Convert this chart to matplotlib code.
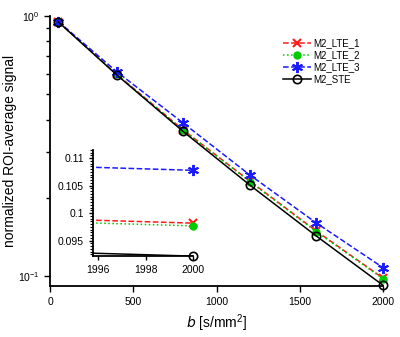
import matplotlib.pyplot as plt
from matplotlib.ticker import FixedLocator, MultipleLocator, FormatStrFormatter, NullFormatter

plt.rcParams['font.family'] = ['Liberation Sans', 'DejaVu Sans']
plt.rcParams['mathtext.default'] = 'regular'

# b-values and normalized signals
b_vals = [50, 400, 800, 1200, 1600, 2000]
lte_1 = [0.951, 0.598, 0.365, 0.232, 0.149, 0.0982]
lte_2 = [0.951, 0.597, 0.364, 0.231, 0.148, 0.0977]
lte_3 = [0.953, 0.612, 0.388, 0.245, 0.160, 0.1078]
ste = [0.950, 0.595, 0.360, 0.224, 0.1425, 0.0922]
names = ['M2_LTE_1', 'M2_LTE_2', 'M2_LTE_3', 'M2_STE']

styles = [
    dict(color='#ff1a1a', ls='--', marker='x', ms=6, mew=1.5, mfc='#ff1a1a'),
    dict(color='#00cc00', ls=':', marker='o', ms=5, mew=1, mfc='#00cc00'),
    dict(color='#1a1aff', ls='--', marker=(6, 2, 0), ms=8, mew=1.4, mfc='#1a1aff'),
    dict(color='black', ls='-', marker='o', ms=6, mew=1.2, mfc='none'),
]
series = [lte_1, lte_2, lte_3, ste]

fig = plt.figure(figsize=(4, 3.37), dpi=100)
ax = fig.add_axes([0.125, 0.151, 0.8325, 0.801])

for y, name, st in zip(series, names, styles):
    ax.plot(b_vals, y, lw=1.1, label=name, clip_on=False, **st)

ax.set_yscale('log')
ax.set_xlim(0, 2000)
ax.set_ylim(0.0915, 1)
ax.set_xticks([0, 500, 1000, 1500, 2000])
ax.tick_params(axis='both', which='major', labelsize=7.5, direction='out', length=4, width=1)
ax.tick_params(axis='y', which='minor', direction='out', length=3, width=1)
ax.yaxis.set_minor_formatter(NullFormatter())
for s in ['top', 'right']:
    ax.spines[s].set_visible(False)
for s in ['left', 'bottom']:
    ax.spines[s].set_linewidth(1.3)
ax.set_xlabel('$\\it{b}$ [s/mm$^2$]', fontsize=10)
ax.set_ylabel('normalized ROI-average signal', fontsize=10, labelpad=1)
ax.legend(loc='upper right', bbox_to_anchor=(0.955, 0.95), frameon=False,
          fontsize=7, handlelength=2.9, labelspacing=0.2, handletextpad=0.2)

# inset zoom near b = 2000
ins = fig.add_axes([0.2325, 0.240, 0.25, 0.315], facecolor='none')
for y, st in zip(series, styles):
    ins.plot(b_vals, y, lw=1.1, color=st['color'], ls=st['ls'])
    ins.plot(b_vals[-1:], y[-1:], ls='none', clip_on=False,
             **{k: v for k, v in st.items() if k != 'ls'})
ins.set_xlim(1995.78, 2000)
ins.set_ylim(0.0922, 0.1115)
ins.xaxis.set_major_locator(FixedLocator([1996, 1998, 2000]))
ins.yaxis.set_major_locator(FixedLocator([0.095, 0.1, 0.105, 0.11]))
ins.yaxis.set_major_formatter(FormatStrFormatter('%g'))
ins.xaxis.set_major_formatter(FormatStrFormatter('%d'))
ins.yaxis.set_minor_locator(MultipleLocator(0.0005))
ins.tick_params(axis='both', which='major', labelsize=7.5, direction='out', length=3, width=1)
ins.tick_params(axis='y', which='minor', direction='out', length=2, width=0.8)
for s in ['top', 'right']:
    ins.spines[s].set_visible(False)
for s in ['left', 'bottom']:
    ins.spines[s].set_linewidth(1.3)

fig.savefig('out.png', dpi=100)
